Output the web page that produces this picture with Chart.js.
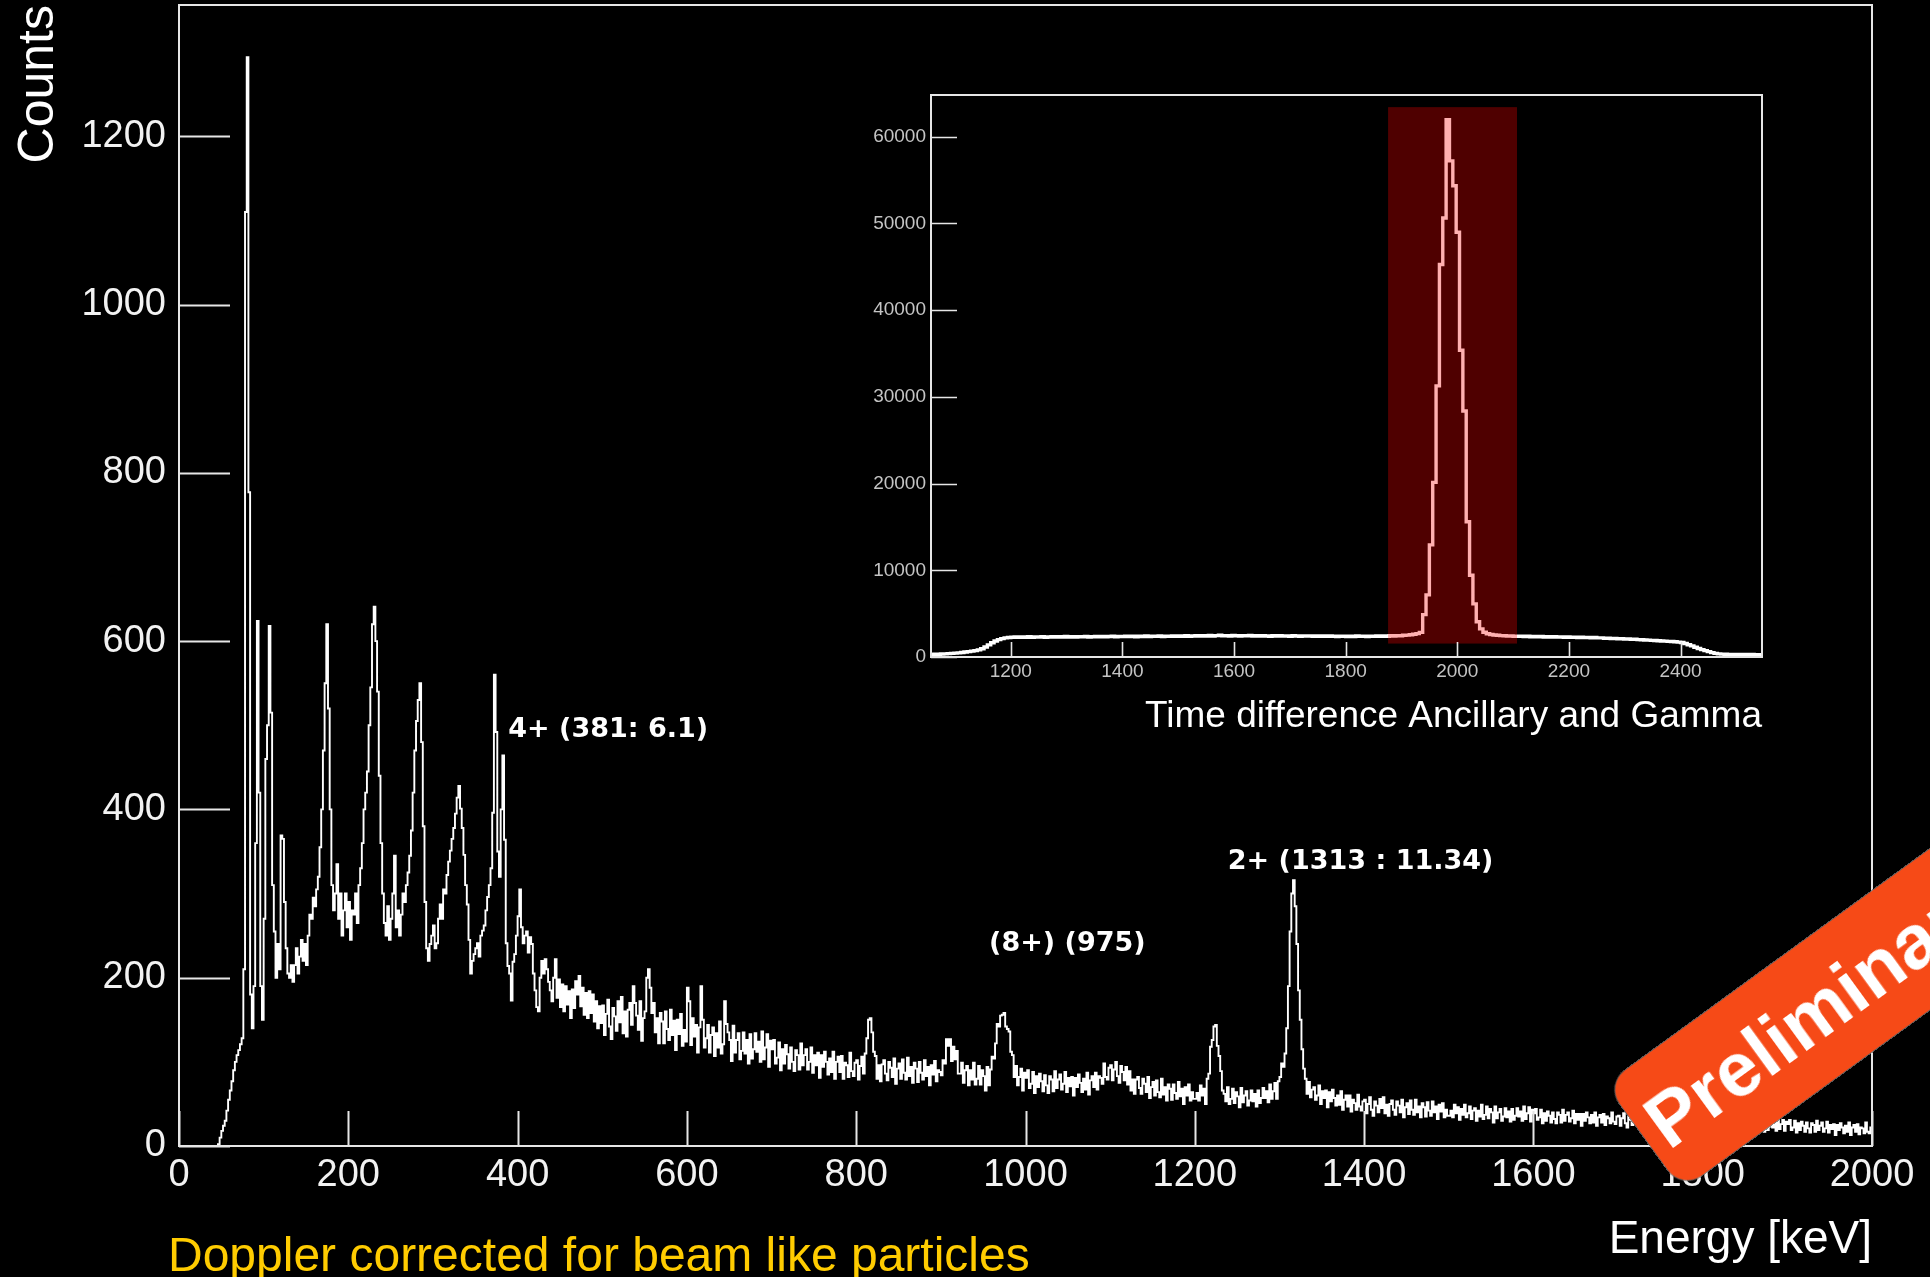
<!DOCTYPE html>
<html>
<head>
<meta charset="utf-8">
<script src="https://cdn.jsdelivr.net/npm/chart.js@4.4.1/dist/chart.umd.min.js"></script>
<style>
html,body{margin:0;padding:0;background:#000;overflow:hidden;}
#wrap{position:relative;width:1930px;height:1277px;background:#000;overflow:hidden;}
#main{position:absolute;left:0;top:0;}
#inset{position:absolute;left:840px;top:80px;}
#stamp{position:absolute;left:1644px;top:1072px;width:640px;height:130px;transform-origin:0 50%;transform:rotate(-36deg);
  background:#f64a17;border-radius:24px;color:#fff;font:bold 76px "Liberation Sans",Arial,sans-serif;line-height:130px;
  padding-left:12px;box-sizing:border-box;white-space:nowrap;box-shadow:0 0 0 1px rgba(110,110,110,0.8);}
</style>
</head>
<body>
<div id="wrap">
  <canvas id="main" width="1930" height="1277"></canvas>
  <canvas id="inset" width="940" height="660"></canvas>
  <div id="stamp">Preliminary</div>
</div>
<script>
// ---------- tick labels ----------
const energyLabels = [0, 200, 400, 600, 800, 1000, 1200, 1400, 1600, 1800, 2000];
const countLabels = [0, 200, 400, 600, 800, 1000, 1200];
const timeLabels = [1200, 1400, 1600, 1800, 2000, 2200, 2400];
const insetCountLabels = [0, 10000, 20000, 30000, 40000, 50000, 60000];
const energyMinorStep = 50, countMinorStep = 50, timeMinorStep = 50, insetCountMinorStep = 2000;

// ---------- main spectrum: counts per 2 keV bin ----------
// 40 - 498 keV
const lowStart = 40, binWidth = 2;
const lowCounts = [
  0,0,0,2,10,18,24,30,42,55,66,77,90,100,108,114,121,128,210,1110,1294,777,180,140,190,
  360,624,420,190,150,270,460,500,618,515,310,255,200,240,210,369,365,290,235,205,200,215,195,215,235,
  205,225,245,220,240,215,250,275,270,295,285,305,320,355,400,470,550,620,520,400,310,280,300,335,270,
  300,250,280,300,260,290,245,280,275,300,265,310,330,360,400,420,445,500,545,620,641,600,540,440,360,
  300,265,250,285,245,270,300,345,260,280,250,275,300,290,310,325,345,375,420,470,505,530,550,480,380,
  290,235,220,240,250,262,235,241,270,287,270,305,300,322,338,351,365,378,395,414,428,401,378,346,310,
  287,245,205,220,228,235,241,225,250,256,262,280,296,310,330,396,560,492,350,320,400,464,364,241,214,
  205,173,219,228,250,273,305,260,241,250,255,230,248,240,205,185,165,160,200,220,205,222,210,195,185,
  172,200,222,176,198,165,192,160,190,168,184,152,186,164,196,180,202,166,188,156,182,152,184,158,180,
  148,172,140,166,146
];
// 500 - 1998 keV
const highStart = 500;
const highCounts = [
  167,132,157,174,142,127,164,154,137,172,147,177,134,160,130,162,170,144,190,170,155,138,172,125,152,
  160,200,210,188,158,170,135,152,122,158,148,122,160,139,126,162,132,149,114,150,133,157,119,138,124,
  188,172,120,152,130,144,111,141,190,150,117,128,144,111,132,141,107,134,117,148,110,121,172,145,135,
  126,101,143,111,126,134,103,113,135,110,126,98,133,104,115,134,112,124,100,136,103,117,133,94,125,
  115,126,98,105,123,90,115,98,120,109,92,117,100,89,114,108,91,122,96,108,115,91,100,117,87,
  108,96,111,81,108,94,112,100,85,104,88,112,80,100,106,88,107,80,99,96,82,111,89,83,99,
  102,79,95,106,86,110,128,150,152,135,112,107,80,96,77,97,102,86,78,100,93,82,104,74,92,
  98,80,103,87,79,105,83,94,75,99,92,76,100,87,79,102,83,94,72,96,85,101,77,90,88,
  84,102,98,127,119,127,101,118,103,113,86,86,99,75,90,95,72,90,79,99,73,80,95,73,90,
  83,66,94,72,91,106,104,122,145,142,155,156,158,142,139,136,112,108,82,95,72,82,92,66,87,
  81,90,69,74,88,63,83,70,86,77,65,84,72,63,83,79,65,89,69,79,85,67,74,88,64,
  81,71,82,60,81,70,85,75,64,80,67,87,61,78,83,70,87,67,83,81,74,98,82,79,93,
  96,78,91,100,83,75,95,88,78,94,73,89,66,79,62,79,82,69,62,80,74,64,82,57,70,
  76,60,78,64,58,80,61,70,54,73,68,55,73,63,56,76,59,68,50,70,60,73,54,64,56,
  56,63,54,72,60,68,50,80,86,118,126,142,144,119,107,89,66,62,53,70,50,56,68,51,64,
  59,46,69,52,60,65,48,54,66,53,62,47,66,51,57,69,57,65,52,73,56,65,75,56,77,
  82,98,94,110,140,190,255,300,316,285,240,185,150,115,92,80,62,76,58,67,70,55,60,72,50,
  65,57,66,46,64,53,67,57,48,60,49,65,43,55,60,47,60,41,55,51,43,61,47,42,53,
  55,39,50,58,43,36,53,48,40,56,45,58,39,49,36,50,54,43,37,53,48,40,55,34,46,
  51,38,54,43,37,55,40,47,34,51,46,35,52,42,36,53,40,47,32,49,41,51,34,43,36,
  36,42,34,49,39,46,31,44,37,49,34,39,47,32,42,45,30,42,35,49,32,37,47,33,44,
  40,28,47,33,40,44,30,35,45,34,41,29,44,31,36,45,35,41,30,47,32,39,46,29,43,
  39,44,31,34,43,27,39,30,41,36,28,40,32,27,40,37,28,43,30,37,40,29,33,42,27,
  38,31,38,24,38,30,40,34,27,37,28,40,24,34,37,28,38,25,35,33,27,40,29,26,35,
  36,24,33,39,27,22,35,31,25,37,28,39,24,33,22,34,36,26,22,34,31,24,37,20,30,
  34,23,35,26,22,37,24,31,20,33,30,21,33,26,22,35,24,31,18,32,25,34,21,28,22,
  23,28,21,33,25,31,19,29,24,33,21,25,32,20,28,31,19,27,22,33,19,23,31,20,29,
  26,17,32,20,26,29,18,22,30,21,26,17,30,19,23,30,22,27,18,32,20,26,31,18,29,
  26,31,19,22,30,16,27,19,29,24,17,28,21,16,27,25,17,30,19,24,28,17,21,29,16,
  25,20,26,13,25,19,27,22,15,24,17,28,13,22,25,17,26,14,22,21,15,28,17,15,22
];
const energyEnd = 2000;

// ---------- inset: time difference histogram ----------
const insetStart = 1056, insetWidth = 6;
const insetCounts = [
  300,310,320,340,360,390,420,450,480,520,570,620,680,740,820,950,1150,1400,1650,1850,2000,2120,2200,2250,2280,
  2300,2260,2310,2280,2330,2270,2320,2290,2340,2280,2310,2350,2290,2330,2300,2360,2310,2340,2290,2350,2320,2370,2300,2340,2360,
  2330,2380,2320,2360,2400,2340,2380,2350,2410,2360,2390,2340,2400,2370,2420,2360,2400,2380,2430,2370,2410,2390,2440,2380,2420,
  2400,2450,2390,2430,2470,2410,2450,2420,2480,2430,2460,2500,2440,2470,2430,2480,2450,2420,2470,2440,2480,2430,2460,2410,2450,
  2430,2400,2450,2420,2460,2410,2440,2400,2450,2420,2390,2440,2410,2430,2390,2420,2400,2440,2380,2420,2400,2370,2410,2390,2360,
  2400,2370,2420,2380,2410,2360,2400,2380,2420,2390,2430,2400,2450,2420,2470,2450,2500,2520,2560,2620,2700,2840,4890,7160,12930,
  20140,31260,45260,50610,61950,57210,54330,48970,35370,28370,15600,9420,6120,4070,3240,2850,2680,2600,2540,2500,2470,2450,2420,2440,2400,
  2380,2410,2360,2390,2340,2370,2330,2360,2310,2340,2300,2330,2290,2320,2280,2300,2260,2290,2250,2270,2230,2260,2220,2240,2200,
  2200,2170,2180,2140,2150,2110,2120,2080,2080,2040,2040,2000,1990,1960,1950,1920,1900,1880,1850,1830,1800,1780,1750,1720,1680,
  1550,1420,1280,1130,980,850,740,620,500,420,360,330,310,300,290,300,280,290,280,270,280,270,260,270
];
// gate window (time) and its vertical extent (counts)
const gateTime = [1876, 2107];
const gateCounts = [1550, 63400];

// ---------- peak annotations ----------
const peakText = ['4+ (381: 6.1)', '(8+) (975)', '2+ (1313 : 11.34)'];
const peakTextEnergy = [389, 957, 1239];
const peakTextCounts = [486, 232, 329];
const caption = 'Doppler corrected for beam like particles';

// ---------- helpers ----------
function histPoints(start, width, counts) {
  return counts.map((c, i) => ({x: start + i * width, y: c}));
}
function buildTicks(min, max, step) {
  const out = [];
  for (let v = Math.ceil(min / step) * step; v <= max + 1e-9; v += step) out.push({value: v});
  return out;
}
function noPad(s) { s.paddingTop = 0; s.paddingBottom = 0; s.paddingLeft = 0; s.paddingRight = 0; }

const mainPoints = [{x: 0, y: 0}]
  .concat(histPoints(lowStart, binWidth, lowCounts))
  .concat(histPoints(highStart, binWidth, highCounts));
mainPoints.push({x: energyEnd, y: highCounts[highCounts.length - 1]});

const insetPoints = histPoints(insetStart, insetWidth, insetCounts);
insetPoints.push({x: insetStart + insetCounts.length * insetWidth, y: insetCounts[insetCounts.length - 1]});

// frame + inward ticks (ROOT style), positions taken from the library's scales
const frameTicks = {
  id: 'frameTicks',
  afterDraw(chart, args, o) {
    const {ctx, chartArea: a, scales: {x, y}} = chart;
    ctx.save();
    ctx.strokeStyle = o.color;
    ctx.lineWidth = o.tickWidth;
    ctx.beginPath();
    x.ticks.forEach(t => {
      const px = Math.round(x.getPixelForValue(t.value)) + 0.5;
      const L = o.xMajorValues.includes(t.value) ? o.xMajor : o.xMinor;
      ctx.moveTo(px, a.bottom); ctx.lineTo(px, a.bottom - L);
    });
    y.ticks.forEach(t => {
      const py = Math.round(y.getPixelForValue(t.value)) + 0.5;
      const L = o.yMajorValues.includes(t.value) ? o.yMajor : o.yMinor;
      ctx.moveTo(a.left, py); ctx.lineTo(a.left + L, py);
    });
    ctx.stroke();
    ctx.lineWidth = o.frameWidth;
    ctx.strokeRect(a.left, a.top, a.right - a.left, a.bottom - a.top);
    ctx.restore();
  }
};

const mainText = {
  id: 'mainText',
  afterDatasetsDraw(chart) {
    const {ctx, scales: {x, y}} = chart;
    ctx.save();
    ctx.fillStyle = '#ffffff';
    ctx.font = 'bold 27px "DejaVu Sans"';
    ctx.textAlign = 'left';
    ctx.textBaseline = 'alphabetic';
    peakText.forEach((t, i) => ctx.fillText(t, x.getPixelForValue(peakTextEnergy[i]), y.getPixelForValue(peakTextCounts[i])));
    ctx.fillStyle = '#ffcc00';
    ctx.font = '48px "Liberation Sans"';
    ctx.fillText(caption, 168, 1271);
    ctx.restore();
  }
};

const gateBand = {
  id: 'gateBand',
  afterDatasetsDraw(chart) {
    const {ctx, scales: {x, y}} = chart;
    const x0 = x.getPixelForValue(gateTime[0]), x1 = x.getPixelForValue(gateTime[1]);
    const y0 = y.getPixelForValue(gateCounts[0]), y1 = y.getPixelForValue(gateCounts[1]);
    ctx.save();
    ctx.fillStyle = 'rgba(255,0,0,0.31)';
    ctx.fillRect(x0, y1, x1 - x0, y0 - y1);
    ctx.restore();
  }
};

Chart.defaults.font.family = '"Liberation Sans", Arial, sans-serif';

new Chart(document.getElementById('main'), {
  type: 'line',
  data: {datasets: [{data: mainPoints, borderColor: '#ffffff', borderWidth: 1.9, pointRadius: 0, stepped: true, fill: false}]},
  options: {
    responsive: false, animation: false, devicePixelRatio: 1,
    layout: {padding: {top: 5, right: 58, left: 0, bottom: 0}},
    plugins: {
      legend: {display: false}, tooltip: {enabled: false},
      frameTicks: {color: '#e6e6e6', tickWidth: 2, frameWidth: 2,
        xMajorValues: energyLabels, xMajor: 35, xMinor: 18,
        yMajorValues: countLabels, yMajor: 51, yMinor: 25}
    },
    scales: {
      x: {
        type: 'linear', min: 0, max: 2000,
        afterBuildTicks: s => { s.ticks = buildTicks(0, 2000, energyMinorStep); },
        afterFit: s => { s.height = 131; noPad(s); },
        ticks: {autoSkip: false, maxRotation: 0, minRotation: 0, padding: 7, color: '#f2f2f2',
          font: {size: 38}, callback: v => energyLabels.includes(v) ? String(v) : null},
        grid: {display: false, drawTicks: false}, border: {display: false},
        title: {display: true, text: 'Energy [keV]', align: 'end', color: '#ffffff',
          font: {size: 46}, padding: {top: 0, bottom: 9}}
      },
      y: {
        type: 'linear', min: 0, max: 1356,
        afterBuildTicks: s => { s.ticks = buildTicks(0, 1356, countMinorStep); },
        afterFit: s => { s.width = 179; noPad(s); },
        ticks: {autoSkip: false, padding: 13, color: '#f2f2f2', font: {size: 38},
          callback: v => countLabels.includes(v) ? String(v) : null},
        grid: {display: false, drawTicks: false}, border: {display: false},
        title: {display: true, text: 'Counts', align: 'end', color: '#ffffff',
          font: {size: 50}, padding: {top: 9, bottom: 0}}
      }
    }
  },
  plugins: [frameTicks, mainText]
});

new Chart(document.getElementById('inset'), {
  type: 'line',
  data: {datasets: [{data: insetPoints, borderColor: '#ffffff', borderWidth: 3.4, pointRadius: 0, stepped: true, fill: false}]},
  options: {
    responsive: false, animation: false, devicePixelRatio: 1,
    layout: {padding: {top: 15, right: 18, left: 0, bottom: 0}},
    plugins: {
      legend: {display: false}, tooltip: {enabled: false},
      frameTicks: {color: '#e6e6e6', tickWidth: 1.6, frameWidth: 2,
        xMajorValues: timeLabels, xMajor: 15, xMinor: 8,
        yMajorValues: insetCountLabels, yMajor: 26, yMinor: 13}
    },
    scales: {
      x: {
        type: 'linear', min: 1057, max: 2546,
        afterBuildTicks: s => { s.ticks = buildTicks(1057, 2546, timeMinorStep); },
        afterFit: s => { s.height = 83; noPad(s); },
        ticks: {autoSkip: false, maxRotation: 0, minRotation: 0, padding: 3, color: '#c4c4c4',
          font: {size: 19}, callback: v => timeLabels.includes(v) ? String(v) : null},
        grid: {display: false, drawTicks: false}, border: {display: false},
        title: {display: true, text: 'Time difference Ancillary and Gamma', align: 'end', color: '#ffffff',
          font: {size: 37}, padding: {top: 0, bottom: 1}}
      },
      y: {
        type: 'linear', min: 0, max: 64800,
        afterBuildTicks: s => { s.ticks = buildTicks(0, 64800, insetCountMinorStep); },
        afterFit: s => { s.width = 91; noPad(s); },
        ticks: {autoSkip: false, padding: 5, color: '#c4c4c4', font: {size: 19},
          callback: v => insetCountLabels.includes(v) ? String(v) : null},
        grid: {display: false, drawTicks: false}, border: {display: false}
      }
    }
  },
  plugins: [frameTicks, gateBand]
});
</script>
</body>
</html>
